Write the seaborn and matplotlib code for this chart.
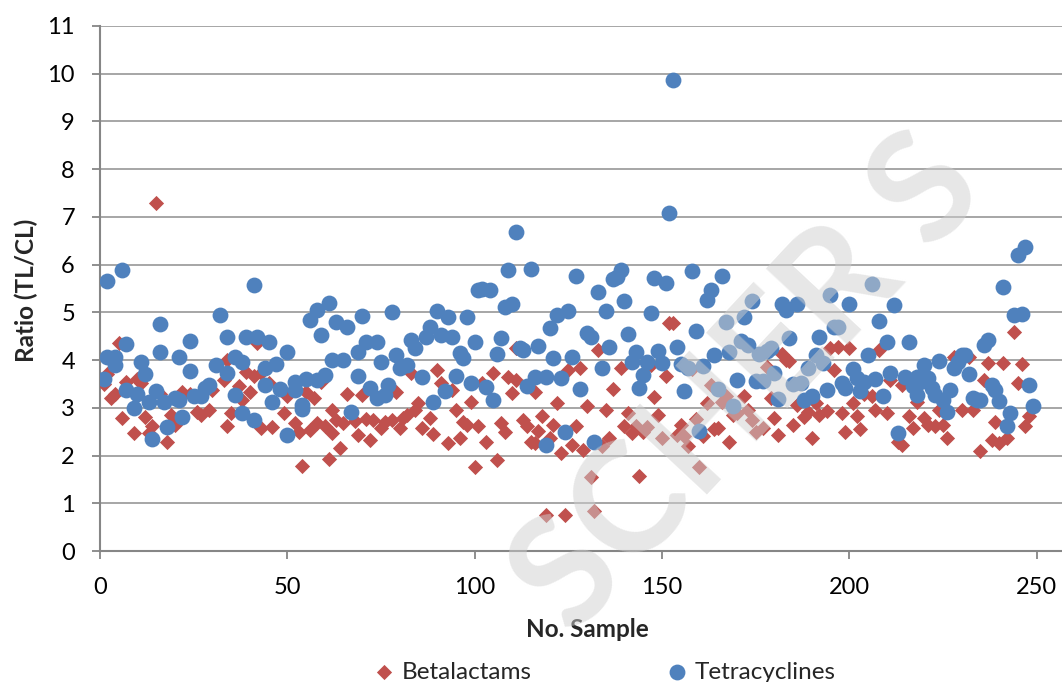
import pandas as pd
import matplotlib
matplotlib.use("Agg")
import matplotlib.pyplot as plt
import seaborn as sns

# values (sample number, TL/CL ratio)
beta_x = [1, 2, 3, 4, 5, 6, 7, 9, 10, 11, 12, 13, 14, 15, 16, 18, 19, 20, 21, 22,
          24, 26, 27, 29, 30, 33, 34, 34, 35, 37, 38, 39, 40, 41, 42, 43, 43, 45, 46, 49,
          50, 52, 53, 54, 55, 56, 57, 58, 59, 60, 61, 62, 62, 63, 64, 65, 66, 68, 69, 70,
          71, 72, 73, 75, 76, 77, 78, 79, 80, 81, 82, 83, 84, 85,
          86, 88, 89, 90, 91, 93, 94, 95, 96, 97, 98, 99, 100, 101, 102, 103, 105, 106, 107, 108,
          109, 110, 111, 111, 113, 114, 115, 116, 116, 117, 118, 119, 120, 121, 122, 123, 124, 125, 126, 127,
          128, 129, 130, 131, 132, 133, 134, 135, 136, 137, 139, 140, 141, 142, 143, 144, 145, 146, 147, 148,
          149, 150, 151, 152, 153, 154, 155, 156, 157, 158, 159, 160, 161, 162, 163, 164, 165, 166, 167, 168, 169,
          170, 172, 173, 174, 175, 177, 178, 179, 180, 181, 182, 183, 184, 185, 186, 188, 189, 190, 191, 192,
          194, 195, 196, 197, 198, 199, 200, 201, 202, 203, 204, 206, 207, 208, 210, 211, 213,
          214, 214, 216, 217, 218, 220, 221, 223, 224, 225, 226, 228, 230, 232, 233, 235, 236, 237, 238, 239,
          240, 241, 242, 244, 245, 246, 247, 248]
beta_y = [3.50, 3.70, 3.20, 3.30, 4.35, 2.78, 3.55, 2.48, 3.60, 3.52, 2.81, 2.47, 2.61, 7.29, 3.30, 2.29, 2.85, 2.65, 3.25, 3.34,
          3.30, 2.92, 2.85, 2.96, 3.38, 3.59, 2.62, 4.00, 2.89, 3.45, 3.17, 3.76, 3.34, 3.66, 4.35, 2.58, 3.73, 3.52, 2.60, 2.89,
          3.24, 2.68, 2.50, 1.78, 3.34, 2.54, 3.20, 2.68, 3.55, 2.61, 1.92, 2.47, 2.96, 2.75, 2.15, 2.68, 3.30, 2.73, 2.43, 3.27,
          2.76, 2.33, 2.75, 2.57, 2.71, 3.30, 2.75, 3.34, 2.57, 2.78, 2.85, 3.72, 2.96, 3.10,
          2.57, 2.78, 2.45, 3.79, 3.52, 2.26, 3.38, 2.96, 2.36, 2.71, 2.64, 3.13, 1.75, 2.61, 3.52, 2.29, 3.74, 1.90, 2.69, 2.50,
          3.64, 3.32, 3.58, 4.25, 2.75, 2.61, 2.29, 3.34, 2.26, 2.52, 2.83, 0.75, 2.36, 2.64, 3.11, 2.06, 0.75, 3.79, 2.22, 2.61,
          3.83, 2.12, 3.04, 1.56, 0.84, 4.21, 2.19, 2.96, 2.36, 3.39, 3.83, 2.61, 2.89, 2.48, 2.62, 1.58, 2.50, 2.60, 3.90, 3.23,
          2.86, 2.37, 3.67, 4.77, 4.77, 2.43, 2.64, 2.40, 2.20, 3.81, 2.76, 1.77, 2.40, 3.10, 3.48, 2.55, 2.57, 3.13, 3.24, 2.29, 2.85,
          2.89, 3.24, 2.96, 2.75, 2.50, 2.57, 3.86, 3.20, 2.78, 2.43, 4.13, 4.00, 3.99, 2.64, 3.06, 2.80, 2.92, 2.37, 3.10, 2.85,
          2.94, 4.25, 3.79, 4.28, 2.89, 2.49, 4.25, 3.11, 2.83, 2.55, 3.30, 3.24, 2.96, 4.21, 2.89, 3.58, 2.29,
          3.48, 2.22, 2.82, 2.57, 3.13, 2.78, 2.64, 2.61, 2.96, 2.64, 2.36, 4.07, 2.96, 4.07, 2.96, 2.10, 3.58, 3.93, 2.33, 2.71,
          2.27, 3.93, 2.36, 4.58, 3.51, 3.92, 2.61, 2.82]

tetra_x = [1, 2, 2, 4, 4, 6, 7, 7, 9, 10, 11, 12, 13, 14, 15, 16, 16, 17, 18, 20,
           21, 21, 22, 24, 24, 25, 27, 28, 29, 31, 32, 34, 34, 36, 36, 38, 38, 39, 41, 41,
           42, 45, 44, 47, 44, 50, 48, 46, 50, 52, 52, 54, 54, 55, 58, 60, 56, 58, 61, 59,
           63, 66, 70, 62, 65, 69, 71, 74, 69, 72, 74, 77, 76, 75, 67, 78, 79, 82, 80, 83, 84,
           86, 87, 88, 90, 91, 93, 94, 89, 92, 95, 96, 97, 98, 99, 100, 101, 102, 104, 103, 105,
           106, 107, 108, 110, 109, 111, 112, 113, 114, 115, 116, 117, 119, 119, 120, 121, 122, 123, 124, 125,
           126, 127, 128, 130, 131, 132, 133, 134, 135, 136, 137, 138, 139, 140, 141, 142, 143, 144, 145, 146,
           147, 148, 149, 150, 151, 152, 153, 154, 155, 156, 157, 158, 159, 160, 161, 162, 163, 164, 165, 166,
           167, 168, 169, 170, 171, 172, 173, 174, 175, 176, 177, 178, 179, 180, 181, 182, 183, 184, 185, 186,
           187, 188, 189, 190, 191, 192, 193, 194, 195, 196, 197, 198, 199, 200, 201, 202, 203, 204, 205, 206,
           207, 208, 209, 210, 211, 212, 213, 215, 216, 217, 218, 218, 219, 220, 221, 222, 223, 224, 225, 226,
           227, 228, 229, 230, 231, 232, 233, 234, 235, 236, 237, 238, 239, 240, 241, 242, 243, 244, 245, 246,
           247, 248, 249]
tetra_y = [3.60, 5.65, 4.07, 3.90, 4.06, 5.88, 4.33, 3.38, 2.99, 3.30, 3.97, 3.71, 3.13, 2.34, 3.35, 4.76, 4.18, 3.13, 2.60, 3.20,
           3.17, 4.07, 2.80, 4.41, 3.78, 3.24, 3.24, 3.41, 3.48, 3.90, 4.95, 3.73, 4.48, 3.27, 4.07, 3.97, 2.90, 4.49, 2.75, 5.58,
           4.49, 4.37, 3.84, 3.91, 3.48, 4.16, 3.39, 3.13, 2.43, 3.38, 3.55, 3.06, 2.97, 3.60, 3.58, 3.69, 4.84, 5.05, 5.19, 4.53,
           4.79, 4.70, 4.93, 4.00, 4.00, 4.16, 4.37, 4.37, 3.67, 3.41, 3.20, 3.48, 3.27, 3.97, 2.92, 5.00, 4.10, 3.90, 3.83, 4.42, 4.25,
           3.65, 4.49, 4.70, 5.03, 4.53, 4.91, 4.49, 3.13, 3.36, 3.67, 4.14, 4.04, 4.91, 3.53, 4.37, 5.47, 5.50, 5.47, 3.43, 3.17,
           4.13, 4.46, 5.12, 5.18, 5.88, 6.69, 4.25, 4.21, 3.45, 5.90, 3.65, 4.30, 3.65, 2.22, 4.67, 4.05, 4.95, 3.62, 2.50, 5.02,
           4.07, 5.77, 3.39, 4.56, 4.48, 2.29, 5.42, 3.83, 5.02, 4.27, 5.70, 5.75, 5.89, 5.24, 4.54, 3.95, 4.16, 3.41, 3.69, 3.95,
           4.98, 5.72, 4.20, 3.94, 5.61, 7.08, 9.87, 4.27, 3.92, 3.36, 3.83, 5.86, 4.60, 2.52, 3.88, 5.25, 5.47, 4.11, 3.39, 5.77,
           4.79, 4.18, 3.03, 3.58, 4.39, 4.91, 4.32, 5.23, 3.56, 4.13, 3.56, 4.20, 4.25, 3.72, 3.18, 5.18, 5.05, 4.46, 3.49, 5.18,
           3.51, 3.17, 3.83, 3.25, 4.11, 4.49, 3.93, 3.38, 5.37, 4.70, 4.70, 3.51, 3.41, 5.18, 3.81, 3.62, 3.36, 3.55, 4.10, 5.60,
           3.60, 4.82, 3.24, 4.37, 3.74, 5.16, 2.47, 3.65, 4.37, 3.45, 3.65, 3.27, 3.55, 3.90, 3.62, 3.41, 3.27, 3.99, 3.17, 2.92,
           3.38, 3.83, 3.97, 4.11, 4.11, 3.70, 3.20, 3.17, 3.17, 4.32, 4.42, 3.48, 3.38, 3.15, 5.54, 2.62, 2.89, 4.95, 6.21, 4.97,
           6.37, 3.48, 3.04]

series_names = ["Betalactams", "Tetracyclines"]
x_ticks = [0, 50, 100, 150, 200, 250]
y_ticks = list(range(0, 12))

RED = "#C0504D"
BLUE = "#4F81BD"
GRID = "#A6A6A6"
AXIS = "#868686"
FS = 17.5

sns.set_theme(style="white")
plt.rcParams["font.family"] = ["Lato", "DejaVu Sans"]

beta = pd.DataFrame({"Sample": beta_x, "Ratio": beta_y})
tetra = pd.DataFrame({"Sample": tetra_x, "Ratio": tetra_y})

fig = plt.figure(figsize=(10.62, 6.82), dpi=100)
ax = fig.add_axes([100 / 1062, 131 / 682, 962 / 1062, 525 / 682])

sns.scatterplot(data=beta, x="Sample", y="Ratio", marker="D", color=RED,
                s=60, linewidth=0, ax=ax, zorder=3)
sns.scatterplot(data=tetra, x="Sample", y="Ratio", marker="o", color=BLUE,
                s=130, linewidth=0, ax=ax, zorder=4)

ax.set_xlim(0, 256.8)
ax.set_ylim(0, 11)
ax.set_xticks(x_ticks)
ax.set_yticks(y_ticks)
ax.yaxis.grid(True, color=GRID, linewidth=1.4)
ax.xaxis.grid(False)
ax.set_axisbelow(True)

for side in ["top", "right"]:
    ax.spines[side].set_visible(False)
for side in ["left", "bottom"]:
    ax.spines[side].set_color(AXIS)
    ax.spines[side].set_linewidth(1.5)

ax.tick_params(axis="both", which="major", direction="out", length=6, width=1.3,
               color=AXIS, labelsize=17, labelcolor="black", left=True, bottom=True)
ax.tick_params(axis="y", pad=12)
ax.tick_params(axis="x", pad=13)

ax.set_xlabel("No. Sample", fontsize=FS, fontweight="bold")
ax.set_ylabel("Ratio (TL/CL)", fontsize=FS, fontweight="bold")
ax.xaxis.set_label_coords(0.507, -0.128)
ax.yaxis.set_label_coords(-0.064, 0.497)

fig.legend(handles=ax.collections[:2], labels=series_names, loc="center",
           bbox_to_anchor=(605 / 1062, 1 - 672 / 682), ncol=2, frameon=False,
           fontsize=FS, handlelength=0.8, handletextpad=0.3, columnspacing=5.6,
           borderaxespad=0, borderpad=0, scatterpoints=1)

# faint publisher watermark across the plot
fig.text(0.705, 0.435, "SCHER S", rotation=47, fontsize=110, fontweight="bold",
         color="#D0D0D0", alpha=0.5, ha="center", va="center", zorder=10)

fig.savefig("out.png", dpi=100)
